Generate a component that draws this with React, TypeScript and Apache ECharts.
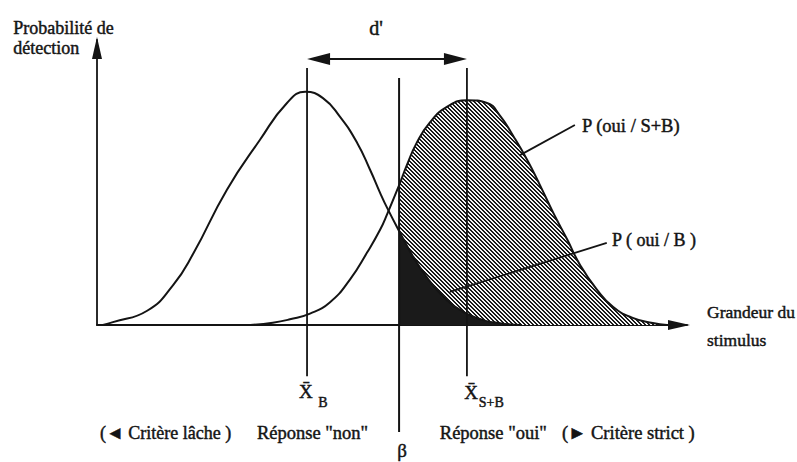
import React, { useEffect, useRef } from "react";
import * as echarts from "echarts";

// Noise distribution (B): stimulus magnitude vs. detection density
const noiseX = [0.1, 0.27, 0.85, 1.29, 1.63, 2.2, 2.76, 3.22, 3.53, 3.83, 4.12, 4.41, 4.63, 4.8, 4.92, 5.12, 5.36, 5.59, 5.81, 6.03, 6.37, 6.83, 7.2];
const noiseY = [0, 0.01, 0.05, 0.14, 0.25, 0.474, 0.649, 0.779, 0.818, 0.796, 0.73, 0.639, 0.544, 0.463, 0.41, 0.33, 0.239, 0.168, 0.112, 0.07, 0.03, 0.006, 0];

// Signal + noise distribution (S+B)
const signalX = [2.6, 2.98, 3.27, 3.61, 3.95, 4.29, 4.58, 4.8, 4.92, 5.12, 5.25, 5.42, 5.64, 5.93, 6.27, 6.61, 6.83, 7.05, 7.29, 7.51, 7.73, 7.97, 8.19, 8.47, 8.75, 9.08, 9.42, 9.66];
const signalY = [0, 0.008, 0.02, 0.04, 0.08, 0.16, 0.255, 0.335, 0.39, 0.49, 0.56, 0.64, 0.71, 0.765, 0.789, 0.779, 0.735, 0.665, 0.58, 0.49, 0.395, 0.3, 0.21, 0.125, 0.063, 0.025, 0.007, 0];

// Means of both distributions and the decision criterion (beta)
const meanNoise = 3.56;
const meanSignal = 6.27;
const criterion = 5.12;

const INK = "#141414";
const FONT = '"Liberation Serif", "DejaVu Serif", serif';

const pairs = (xs: number[], ys: number[]) => xs.map((x, i) => [x, ys[i]]);
const fromCriterion = (xs: number[], ys: number[]) =>
  pairs(xs, ys).filter((p) => p[0] >= criterion);

// Diagonal "\" hatching tile
function hatchTile(size: number, band: number): string {
  const c = document.createElement("canvas");
  c.width = size;
  c.height = size;
  const ctx = c.getContext("2d")!;
  const img = ctx.createImageData(size, size);
  for (let y = 0; y < size; y++) {
    for (let x = 0; x < size; x++) {
      const on = (((x - y) % size) + size) % size < band;
      const v = on ? 25 : 245;
      const i = (y * size + x) * 4;
      img.data[i] = v;
      img.data[i + 1] = v;
      img.data[i + 2] = v;
      img.data[i + 3] = 255;
    }
  }
  ctx.putImageData(img, 0, 0);
  return c.toDataURL();
}

function buildOption(): echarts.EChartsCoreOption {
  const smooth = 0.5;
  const axisLine = {
    show: true,
    symbol: ["none", "triangle"],
    symbolSize: [10, 22],
    symbolOffset: [0, -8],
    lineStyle: { color: INK, width: 1.8 },
  };
  return {
    animation: false,
    backgroundColor: "#ffffff",
    grid: { left: 97, top: 40, width: 590, height: 285, containLabel: false, outerBoundsMode: "none" },
    xAxis: {
      type: "value",
      min: 0,
      max: 10,
      splitLine: { show: false },
      axisTick: { show: false },
      axisLabel: { show: false },
      axisLine,
    },
    yAxis: {
      type: "value",
      min: 0,
      max: 1,
      splitLine: { show: false },
      axisTick: { show: false },
      axisLabel: { show: false },
      axisLine,
    },
    series: [
      {
        name: "P(oui/S+B)",
        type: "line",
        data: fromCriterion(signalX, signalY),
        smooth,
        showSymbol: false,
        symbol: "none",
        lineStyle: { width: 0 },
        areaStyle: {
          color: { image: hatchTile(4, 2), repeat: "repeat", imageWidth: 4, imageHeight: 4 },
          opacity: 1,
        },
        z: 1,
      },
      {
        name: "P(oui/B)",
        type: "line",
        data: fromCriterion(noiseX, noiseY),
        smooth,
        showSymbol: false,
        symbol: "none",
        lineStyle: { width: 0 },
        areaStyle: { color: "#1a1a1a", opacity: 1 },
        z: 2,
      },
      {
        name: "B",
        type: "line",
        data: pairs(noiseX, noiseY),
        smooth,
        showSymbol: false,
        symbol: "none",
        lineStyle: { color: INK, width: 2 },
        z: 3,
      },
      {
        name: "S+B",
        type: "line",
        data: pairs(signalX, signalY),
        smooth,
        showSymbol: false,
        symbol: "none",
        lineStyle: { color: INK, width: 2 },
        z: 3,
      },
    ],
  };
}

function buildAnnotations(chart: echarts.ECharts) {
  const px = (x: number, y: number) => chart.convertToPixel({ gridIndex: 0 }, [x, y]) as number[];
  const items: any[] = [];

  const seg = (x1: number, y1: number, x2: number, y2: number, width = 1.8) => {
    const a = px(x1, y1);
    const b = px(x2, y2);
    items.push({
      type: "line",
      silent: true,
      z: 10,
      shape: { x1: a[0], y1: a[1], x2: b[0], y2: b[1] },
      style: { stroke: INK, lineWidth: width },
    });
  };
  const text = (
    s: string,
    x: number,
    y: number,
    align: "left" | "center" | "right" = "left",
    size = 18.5
  ) => {
    const p = px(x, y);
    items.push({
      type: "text",
      silent: true,
      z: 11,
      x: p[0],
      y: p[1],
      style: {
        text: s,
        font: `${size}px ${FONT}`,
        fill: INK,
        stroke: INK,
        lineWidth: 0.45,
        align,
        verticalAlign: "middle",
      },
    });
  };

  // Reference lines for the two means and the criterion
  seg(meanNoise, 0.902, meanNoise, -0.18);
  seg(meanSignal, 0.902, meanSignal, -0.18);
  seg(criterion, 0.867, criterion, -0.375, 2);

  // d' : distance between the means
  const dy = 0.933;
  const l = px(meanNoise, dy);
  const r = px(meanSignal, dy);
  items.push({
    type: "line",
    silent: true,
    z: 10,
    shape: { x1: l[0] + 12, y1: l[1], x2: r[0] - 12, y2: r[1] },
    style: { stroke: INK, lineWidth: 2 },
  });
  items.push({
    type: "polygon",
    silent: true,
    z: 10,
    shape: { points: [[l[0], l[1]], [l[0] + 23, l[1] - 6], [l[0] + 23, l[1] + 6]] },
    style: { fill: INK },
  });
  items.push({
    type: "polygon",
    silent: true,
    z: 10,
    shape: { points: [[r[0], r[1]], [r[0] - 23, r[1] - 6], [r[0] - 23, r[1] + 6]] },
    style: { fill: INK },
  });
  text("d'", 4.73, 1.042, "center", 20);

  // Leader lines to the shaded areas
  seg(7.17, 0.596, 8.1, 0.702);
  seg(5.98, 0.116, 8.64, 0.288);
  text("P (oui / S+B)", 8.22, 0.698, "left", 18.5);
  text("P ( oui / B )", 8.73, 0.298, "left", 18);

  // Axis titles
  text("Probabilité de", -1.42, 1.042, "left", 18);
  text("détection", -1.42, 0.972, "left", 18);
  text("Grandeur du", 10.34, 0.046, "left", 17.5);
  text("stimulus", 10.34, -0.053, "left", 17.5);

  // Means, criterion and response labels under the axis
  text("X\u0304", 3.54, -0.232, "center", 19);
  text("B", 3.75, -0.272, "left", 14);
  text("X\u0304", 6.34, -0.236, "center", 19);
  text("S+B", 6.47, -0.272, "left", 14);
  text("(\u25C4 Critère lâche )", 0.05, -0.379, "left", 18);
  text("Réponse \"non\"", 2.71, -0.379, "left", 18.5);
  text("β", 5.17, -0.442, "center", 19);
  text("Réponse \"oui\"", 5.81, -0.379, "left", 18.5);
  text("(\u25BA Critère strict )", 7.88, -0.379, "left", 18.5);

  return items;
}

export default function App() {
  const ref = useRef<HTMLDivElement>(null);
  useEffect(() => {
    const el = ref.current;
    if (!el) return;
    const chart = echarts.init(el, null, { renderer: "svg" });
    chart.setOption(buildOption());
    chart.setOption({ graphic: buildAnnotations(chart) });
    return () => chart.dispose();
  }, []);
  return (
    <div
      ref={ref}
      style={{ position: "fixed", left: 0, top: 0, width: 797, height: 462, background: "#ffffff" }}
    />
  );
}
